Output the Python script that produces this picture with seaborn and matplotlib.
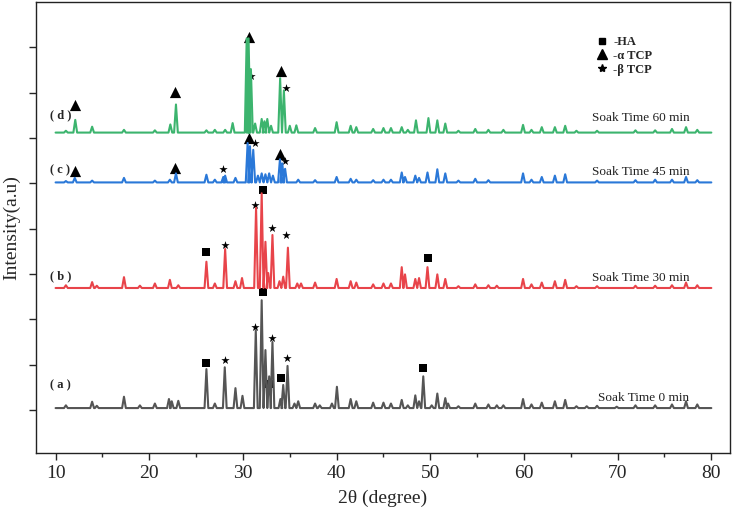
import matplotlib
matplotlib.use("Agg")
import matplotlib.pyplot as plt
from matplotlib.lines import Line2D
import numpy as np
import pandas as pd
import seaborn as sns

# peak positions (2theta) and heights, one list pair per sample
pos_a = [11.1, 13.9, 14.4, 17.3, 19.0, 20.6, 22.1, 22.4, 23.1, 26.1, 27.0, 28.06, 29.2, 29.95,
         31.37, 32.0, 32.4, 32.8, 33.15, 34.0, 34.3, 34.76, 35.5, 35.9, 37.7, 38.2, 39.5, 40.03,
         41.5, 42.1, 43.9, 45.0, 45.8, 46.95, 47.6, 48.4, 48.8, 49.25, 50.15, 50.75, 51.6, 51.9,
         53.0, 54.8, 56.2, 57.1, 57.8, 59.9, 60.8, 61.9, 63.3, 64.4, 65.6, 66.7, 67.8, 69.9,
         71.9, 74.0, 75.8, 77.3, 78.5]
h_a = [0.06, 0.14, 0.05, 0.25, 0.06, 0.1, 0.2, 0.15, 0.16, 0.86, 0.1, 0.9, 0.44, 0.27,
       1.72, 2.38, 1.28, 0.7, 1.46, 0.2, 0.51, 0.93, 0.1, 0.15, 0.1, 0.06, 0.1, 0.47,
       0.2, 0.15, 0.12, 0.12, 0.1, 0.18, 0.06, 0.28, 0.15, 0.7, 0.06, 0.32, 0.22, 0.1,
       0.04, 0.1, 0.08, 0.06, 0.06, 0.2, 0.08, 0.12, 0.15, 0.18, 0.04, 0.04, 0.05, 0.03,
       0.06, 0.06, 0.08, 0.15, 0.08]

pos_b = [11.1, 13.9, 14.4, 17.3, 19.0, 20.6, 22.2, 23.1, 26.1, 27.0, 28.1, 29.2, 29.9, 31.4,
         32.0, 32.4, 32.7, 33.15, 33.9, 34.3, 34.8, 35.8, 36.2, 37.7, 40.0, 41.5, 42.1, 43.9,
         45.0, 45.8, 46.95, 47.3, 48.4, 48.8, 49.7, 50.75, 51.6, 53.0, 54.8, 56.2, 57.1, 59.9,
         60.8, 61.9, 63.3, 64.4, 65.6, 67.8, 71.9, 74.0, 75.8, 77.3, 78.5]
h_b = [0.06, 0.13, 0.05, 0.24, 0.05, 0.1, 0.18, 0.06, 0.58, 0.1, 0.86, 0.15, 0.22, 1.77,
       2.09, 1.02, 0.33, 1.17, 0.15, 0.25, 0.89, 0.1, 0.1, 0.12, 0.2, 0.15, 0.12, 0.08,
       0.1, 0.1, 0.46, 0.3, 0.2, 0.22, 0.46, 0.3, 0.2, 0.04, 0.08, 0.06, 0.05, 0.2,
       0.08, 0.12, 0.15, 0.18, 0.04, 0.04, 0.05, 0.05, 0.06, 0.12, 0.06]

pos_c = [11.1, 12.05, 13.9, 17.3, 20.6, 22.2, 22.85, 26.1, 27.0, 27.9, 28.1, 29.2, 30.5, 30.75,
         31.1, 31.6, 32.0, 32.4, 32.8, 33.2, 33.95, 34.2, 34.5, 35.9, 37.7, 40.0, 41.5, 42.1,
         43.9, 45.0, 45.8, 46.95, 47.3, 48.4, 48.8, 49.7, 50.75, 51.6, 53.0, 54.8, 56.2, 59.9,
         60.8, 61.9, 63.3, 64.4, 67.8, 71.9, 74.0, 75.8, 77.3, 78.5]
h_c = [0.03, 0.1, 0.04, 0.1, 0.04, 0.06, 0.2, 0.17, 0.06, 0.12, 0.15, 0.1, 0.87, 0.8,
       0.72, 0.15, 0.2, 0.18, 0.2, 0.15, 0.51, 0.42, 0.3, 0.06, 0.05, 0.12, 0.08, 0.06,
       0.05, 0.06, 0.06, 0.22, 0.12, 0.15, 0.1, 0.22, 0.29, 0.2, 0.04, 0.08, 0.05, 0.2,
       0.06, 0.12, 0.15, 0.18, 0.04, 0.05, 0.06, 0.06, 0.12, 0.05]

pos_d = [11.1, 12.1, 13.9, 17.3, 20.6, 22.25, 22.85, 26.1, 27.0, 28.1, 28.9, 30.4, 30.6, 30.85,
         31.3, 32.0, 32.3, 32.6, 33.0, 33.97, 34.37, 35.0, 35.7, 37.7, 40.0, 41.5, 42.1, 43.9,
         45.0, 45.8, 46.95, 47.6, 48.47, 49.8, 50.75, 51.6, 53.0, 54.8, 56.2, 57.8, 59.9, 60.8,
         61.9, 63.3, 64.4, 65.6, 67.8, 71.9, 74.0, 75.8, 77.3, 78.5]
h_d = [0.04, 0.28, 0.13, 0.06, 0.05, 0.18, 0.62, 0.05, 0.06, 0.06, 0.21, 2.08, 2.08, 1.4,
       0.2, 0.3, 0.25, 0.3, 0.15, 1.2, 0.93, 0.15, 0.16, 0.1, 0.23, 0.15, 0.12, 0.08,
       0.1, 0.1, 0.12, 0.06, 0.27, 0.32, 0.27, 0.2, 0.04, 0.08, 0.06, 0.06, 0.17, 0.06,
       0.12, 0.12, 0.15, 0.04, 0.04, 0.05, 0.05, 0.08, 0.12, 0.06]

samples = ["a", "b", "c", "d"]
offsets = [0.04, 2.69, 5.02, 6.12]
soak_labels = ["Soak Time 0 min", "Soak Time 30 min", "Soak Time 45 min", "Soak Time 60 min"]
colors = ["#555555", "#e8444a", "#2a78d8", "#3cb46e"]

# phase markers (2theta, stacked intensity)
ha_x = [26.1, 32.1, 32.76, 34.05, 49.25, 26.1, 32.1, 49.72]
ha_y = [1.04, 2.61, 0.57, 0.70, 0.92, 3.48, 4.86, 3.36]
atcp_x = [12.03, 22.8, 30.63, 33.94, 12.1, 22.8, 30.66, 34.05]
atcp_y = [5.28, 5.34, 6.0, 5.65, 6.73, 7.01, 8.23, 7.49]
btcp_x = [28.06, 31.34, 33.15, 34.65, 28.1, 31.27, 33.05, 34.58, 27.88, 31.34, 34.5, 30.84, 34.58]
btcp_y = [1.10, 1.83, 1.58, 1.14, 3.64, 4.53, 4.01, 3.86, 5.32, 5.89, 5.5, 7.37, 7.1]

HW = 0.2  # half width of a peak at its base


def build(pos, h, off, name):
    xs, ys = [10.0], [off]
    for p, v in zip(pos, h):
        xs += [p - HW, p, p + HW]
        ys += [off, off + v, off]
    xs.append(80.0)
    ys.append(off)
    return pd.DataFrame({"x": xs, "y": ys, "sample": name})


df = pd.concat([build(pos_a, h_a, offsets[0], "a"),
                build(pos_b, h_b, offsets[1], "b"),
                build(pos_c, h_c, offsets[2], "c"),
                build(pos_d, h_d, offsets[3], "d")], ignore_index=True)

sns.set_style("ticks")
plt.rcParams["font.family"] = ["Liberation Serif", "DejaVu Serif"]

fig = plt.figure(figsize=(7.33, 5.23), dpi=100)
ax = fig.add_axes([0.049, 0.134, 0.947, 0.862])

sns.lineplot(data=df, x="x", y="y", hue="sample", palette=dict(zip(samples, colors)),
             sort=False, estimator=None, legend=False, lw=1.5, ax=ax)

sns.scatterplot(x=ha_x, y=ha_y, marker="s", color="black", s=30, linewidth=0, ax=ax)
sns.scatterplot(x=atcp_x, y=atcp_y, marker="^", color="black", s=65, linewidth=0, ax=ax)
sns.scatterplot(x=btcp_x, y=btcp_y, marker="*", color="black", s=40, linewidth=0, ax=ax)

tag_y = [0.54, 2.94, 5.28, 6.5]
soak_y = [0.27, 2.92, 5.26, 6.45]
for s, ty, sy, lab in zip(samples, tag_y, soak_y, soak_labels):
    ax.text(9.35, ty, "( %s )" % s, fontsize=9, fontweight="bold", ha="left", va="center")
    ax.text(77.65, sy, lab, fontsize=9.5, ha="right", va="center", color="#222222")

handles = [Line2D([], [], ls="none", marker="s", color="black", ms=5),
           Line2D([], [], ls="none", marker="^", color="black", ms=7),
           Line2D([], [], ls="none", marker="*", color="black", ms=6)]
ax.legend(handles, ["-HA", "-\u03b1 TCP", "-\u03b2 TCP"], loc="upper left",
          bbox_to_anchor=(0.792, 0.95), frameon=False, handlelength=0.8, handletextpad=0.5,
          labelspacing=0.15, prop={"weight": "bold", "size": 9})

ax.set_xlim(7.9, 82.0)
ax.set_ylim(-0.95, 9.0)
ax.set_xticks(range(10, 81, 10))
ax.set_xticks(range(15, 80, 10), minor=True)
ax.set_yticks(range(0, 9))
ax.set_yticklabels([])
ax.tick_params(axis="both", which="major", direction="out", length=5, width=1, labelsize=14)
ax.tick_params(axis="x", which="minor", direction="out", length=3, width=1)
for sp in ax.spines.values():
    sp.set_visible(True)
    sp.set_linewidth(1.0)
    sp.set_color("#222222")

ax.set_xlabel("2\u03b8 (degree)", fontsize=14, labelpad=6)
ax.set_ylabel("Intensity(a.u)", fontsize=14)
ax.yaxis.set_label_coords(-0.022, 0.5)

fig.savefig("out.png", dpi=100)
